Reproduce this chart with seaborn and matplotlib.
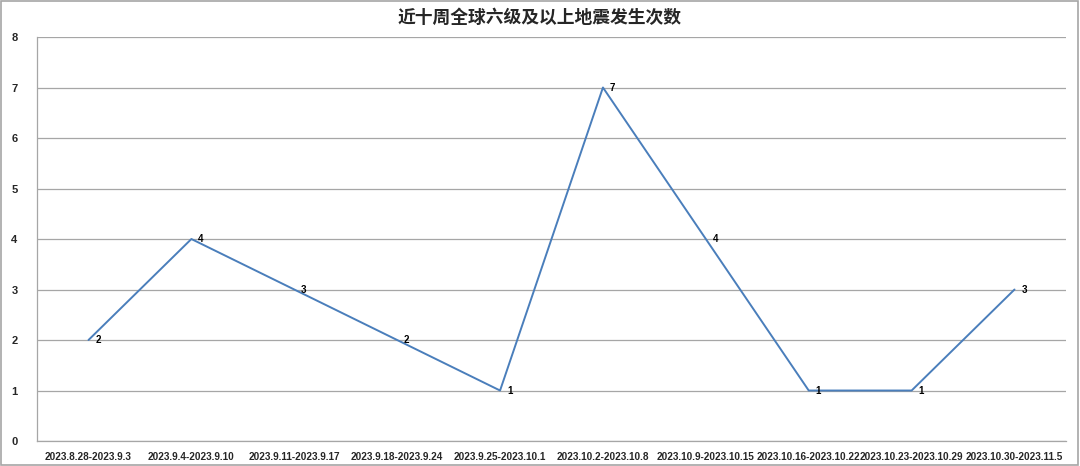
import matplotlib
matplotlib.use('Agg')
import matplotlib.pyplot as plt
import seaborn as sns
import pandas as pd

weeks = ['2023.8.28-2023.9.3', '2023.9.4-2023.9.10', '2023.9.11-2023.9.17',
         '2023.9.18-2023.9.24', '2023.9.25-2023.10.1', '2023.10.2-2023.10.8',
         '2023.10.9-2023.10.15', '2023.10.16-2023.10.22', '2023.10.23-2023.10.29',
         '2023.10.30-2023.11.5']
counts = [2, 4, 3, 2, 1, 7, 4, 1, 1, 3]
title = '近十周全球六级及以上地震发生次数'

df = pd.DataFrame({'week': weeks, 'count': counts})

sns.set_style('white')
plt.rcParams['font.family'] = ['Liberation Sans', 'Noto Sans CJK SC', 'DejaVu Sans']

fig = plt.figure(figsize=(10.8, 4.66), dpi=100)
ax = fig.add_axes([0.0343, 0.0536, 0.9527, 0.867])

sns.lineplot(data=df, x='week', y='count', sort=False, color='#4a7ebb',
             linewidth=1.4, ax=ax)

for i, v in enumerate(counts):
    ax.annotate(str(v), (i, v), xytext=(5, 0), textcoords='offset points',
                ha='left', va='center', fontsize=7, fontweight='bold', color='black')

ax.set_xlim(-0.5, len(weeks) - 0.5)
ax.set_ylim(0, 8)
ax.set_yticks(range(0, 9))
ax.yaxis.grid(True, color='#a6a6a6', linewidth=0.9)
ax.set_axisbelow(True)
ax.set_xlabel('')
ax.set_ylabel('')
for side in ['top', 'right']:
    ax.spines[side].set_visible(False)
for side in ['left', 'bottom']:
    ax.spines[side].set_color('#a6a6a6')
    ax.spines[side].set_linewidth(0.9)
ax.tick_params(axis='x', length=0, pad=8)
ax.tick_params(axis='y', length=0, labelsize=8, pad=14)
for lab in ax.get_yticklabels():
    lab.set_fontweight('bold')
ax.set_xticks(range(len(weeks)))
ax.set_xticklabels(weeks, fontsize=7.2, fontweight='bold')

fig.suptitle(title, y=0.98, fontsize=12.8, fontweight='bold',
             family=['Noto Sans CJK SC', 'DejaVu Sans'])

border = plt.Rectangle((0.001, 0.002), 0.997, 0.995, transform=fig.transFigure,
                       fill=False, edgecolor='#a6a6a6', linewidth=1.2)
fig.patches.append(border)

fig.savefig('out.png', dpi=100)
